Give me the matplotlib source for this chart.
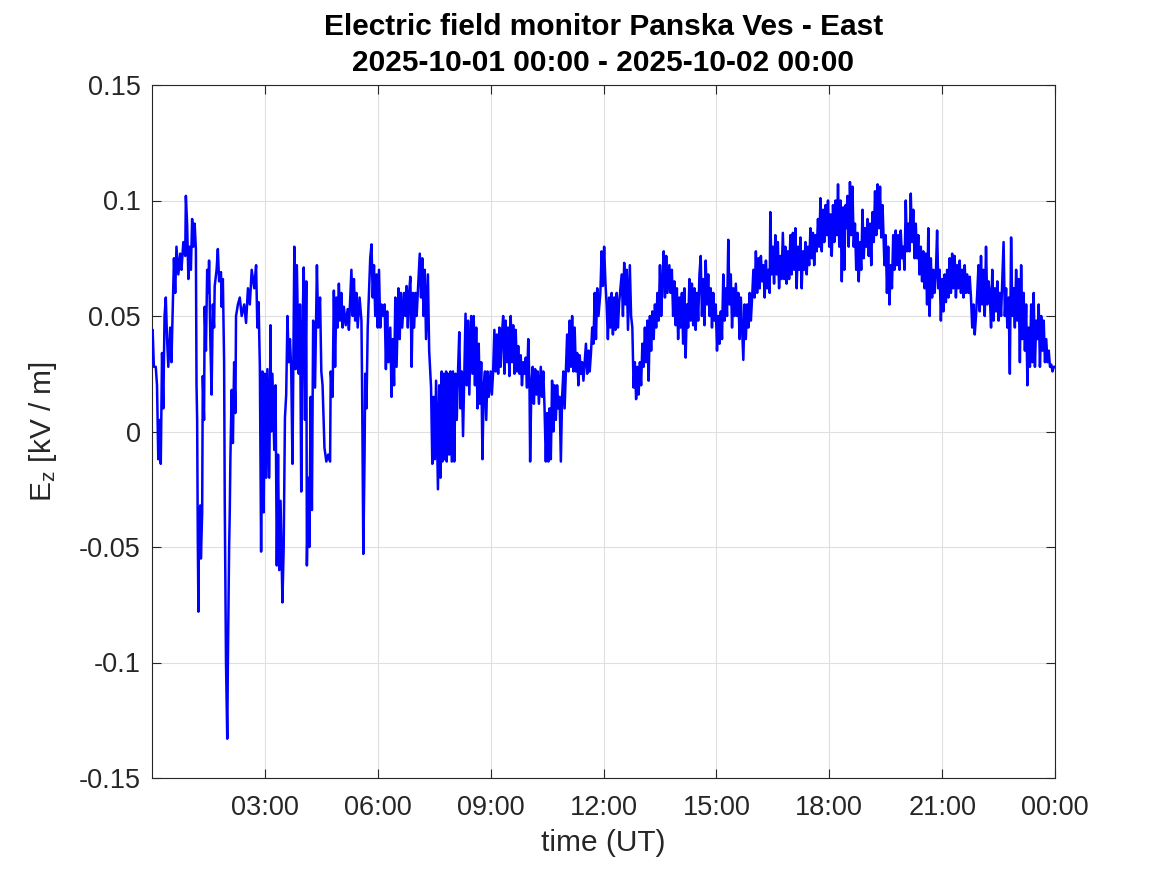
import matplotlib
matplotlib.use("Agg")
import matplotlib.pyplot as plt

# (minute of day, Ez in kV/m), in 3-hour blocks
block_00_03 = [(0, 0.030), (1, 0.044), (3, 0.028), (6, 0.028), (8, 0.020), (10, -0.012), (12, 0.005), (14, -0.014),
               (16, 0.034), (18, 0.010), (20, 0.050), (22, 0.058), (24, 0.040), (26, 0.028), (29, 0.045), (31, 0.030),
               (33, 0.052), (35, 0.075), (37, 0.060), (39, 0.080), (42, 0.068), (45, 0.077), (47, 0.070), (50, 0.082),
               (53, 0.076), (54, 0.102), (56, 0.090), (58, 0.066), (60, 0.080), (62, 0.070), (64, 0.092), (66, 0.080),
               (68, 0.090), (70, 0.079), (71, 0.020), (72, 0.005), (73, -0.045), (74, -0.078), (75, -0.040),
               (77, -0.032), (78, -0.055), (80, -0.035), (81, 0.024), (83, 0.005), (84, 0.054), (86, 0.035),
               (88, 0.070), (90, 0.060), (91, 0.074), (93, 0.040), (95, 0.016), (97, 0.055), (99, 0.045), (100, 0.063),
               (103, 0.070), (105, 0.079), (107, 0.065), (110, 0.069), (111, 0.054), (113, 0.066), (115, 0.030),
               (116, -0.030), (118, -0.100), (120, -0.133), (121, -0.100), (123, -0.050), (124, -0.035), (125, -0.012),
               (127, 0.018), (129, -0.005), (131, 0.030), (133, 0.008), (134, 0.050), (137, 0.055), (140, 0.058),
               (143, 0.050), (147, 0.055), (150, 0.047), (153, 0.062), (156, 0.055), (159, 0.070), (163, 0.062),
               (166, 0.072), (168, 0.045), (170, 0.056), (172, 0.028), (174, -0.052), (176, 0.026), (178, -0.035)]
block_03_06 = [(180, 0.025), (182, -0.020), (184, 0.027), (187, -0.020), (189, 0.046), (190, 0.000), (192, 0.025),
               (195, -0.008), (197, 0.020), (199, -0.058), (201, -0.010), (203, -0.060), (205, -0.030), (208, -0.074),
               (210, -0.050), (212, 0.006), (214, 0.016), (216, 0.050), (218, 0.030), (220, 0.040), (222, 0.027),
               (224, -0.014), (227, 0.080), (229, 0.027), (231, 0.072), (234, 0.025), (236, 0.055), (238, -0.026),
               (240, 0.045), (242, 0.071), (244, 0.005), (246, 0.065), (247, -0.058), (249, -0.020), (251, -0.050),
               (253, 0.015), (255, -0.034), (257, 0.048), (260, 0.019), (263, 0.072), (265, 0.045), (268, 0.058),
               (270, 0.026), (272, 0.020), (275, -0.007), (278, -0.013), (281, -0.010), (284, -0.013), (285, 0.026),
               (288, 0.015), (290, 0.061), (292, 0.028), (294, 0.058), (296, 0.045), (298, 0.064), (300, 0.048),
               (302, 0.060), (304, 0.045), (306, 0.054), (309, 0.046), (312, 0.053), (314, 0.044), (318, 0.070),
               (320, 0.050), (322, 0.066), (324, 0.048), (326, 0.060), (328, 0.045), (331, 0.058), (334, 0.048),
               (335, 0.020), (337, -0.053), (339, -0.010), (340, 0.025), (342, 0.010), (344, 0.045), (346, 0.060),
               (348, 0.075), (350, 0.081), (352, 0.058), (354, 0.072), (356, 0.050), (358, 0.068)]
block_06_09 = [(360, 0.045), (362, 0.070), (364, 0.045), (366, 0.055), (368, 0.050), (371, 0.055), (373, 0.027),
               (375, 0.052), (377, 0.030), (380, 0.045), (382, 0.015), (384, 0.040), (386, 0.020), (388, 0.058),
               (390, 0.028), (393, 0.062), (395, 0.040), (397, 0.060), (399, 0.045), (402, 0.060), (404, 0.050),
               (406, 0.063), (408, 0.045), (410, 0.060), (412, 0.067), (414, 0.028), (416, 0.060), (418, 0.045),
               (420, 0.060), (422, 0.050), (427, 0.077), (429, 0.058), (431, 0.075), (433, 0.050), (435, 0.070),
               (437, 0.040), (440, 0.068), (442, 0.035), (445, 0.019), (447, -0.014), (449, 0.015), (451, -0.012),
               (453, 0.022), (456, -0.025), (458, 0.020), (460, -0.020), (462, 0.026), (463, -0.013), (465, 0.025),
               (467, -0.012), (469, 0.026), (470, -0.013), (472, 0.025), (474, -0.010), (476, 0.026), (478, -0.013),
               (480, 0.026), (482, -0.013), (484, 0.025), (486, 0.005), (488, 0.026), (490, 0.043), (492, 0.010),
               (494, 0.026), (496, -0.002), (500, 0.051), (502, 0.020), (504, 0.048), (506, 0.016), (509, 0.050),
               (511, 0.025), (513, 0.050), (515, 0.020), (517, 0.045), (519, 0.010), (521, 0.038), (523, 0.012),
               (525, 0.030), (527, -0.012), (529, 0.020), (531, 0.026), (533, 0.005), (535, 0.026), (537, 0.015)]
block_09_12 = [(540, 0.026), (542, 0.016), (544, 0.026), (546, 0.044), (548, 0.026), (550, 0.042), (552, 0.025),
               (554, 0.045), (556, 0.028), (558, 0.042), (560, 0.050), (562, 0.025), (564, 0.048), (566, 0.030),
               (568, 0.045), (570, 0.024), (572, 0.050), (574, 0.030), (576, 0.046), (578, 0.025), (580, 0.044),
               (582, 0.026), (584, 0.037), (586, 0.025), (588, 0.033), (590, 0.020), (592, 0.030), (594, 0.025),
               (596, 0.032), (598, 0.019), (600, 0.040), (602, 0.020), (603, -0.013), (605, 0.020), (607, 0.028),
               (609, 0.012), (611, 0.027), (613, 0.016), (615, 0.026), (617, 0.012), (620, 0.028), (622, 0.015),
               (624, 0.026), (626, 0.010), (628, -0.013), (630, 0.008), (632, -0.013), (634, 0.010), (636, -0.012),
               (638, 0.022), (640, 0.000), (642, 0.020), (644, 0.005), (646, 0.020), (648, 0.010), (650, 0.015),
               (652, -0.013), (654, 0.015), (656, 0.026), (658, 0.010), (660, 0.026), (662, 0.042), (664, 0.026),
               (666, 0.048), (668, 0.028), (670, 0.050), (672, 0.026), (674, 0.045), (676, 0.026), (678, 0.034),
               (680, 0.020), (682, 0.033), (684, 0.025), (686, 0.030), (688, 0.022), (690, 0.030), (692, 0.038),
               (694, 0.025), (696, 0.035), (698, 0.026), (700, 0.034), (702, 0.045), (704, 0.038), (706, 0.060),
               (708, 0.040), (710, 0.062), (712, 0.050), (715, 0.060)]
block_12_15 = [(717, 0.078), (719, 0.063), (721, 0.080), (723, 0.065), (725, 0.055), (727, 0.040), (729, 0.058),
               (731, 0.045), (733, 0.060), (735, 0.042), (737, 0.058), (739, 0.044), (741, 0.060), (743, 0.045),
               (745, 0.056), (749, 0.068), (751, 0.050), (753, 0.073), (755, 0.055), (757, 0.070), (759, 0.044),
               (762, 0.072), (764, 0.050), (766, 0.045), (768, 0.019), (770, 0.030), (772, 0.014), (774, 0.028),
               (776, 0.016), (778, 0.030), (780, 0.020), (782, 0.038), (784, 0.028), (786, 0.045), (788, 0.030),
               (790, 0.048), (792, 0.022), (794, 0.050), (796, 0.035), (798, 0.052), (800, 0.040), (802, 0.055),
               (804, 0.045), (806, 0.060), (808, 0.048), (810, 0.072), (812, 0.050), (814, 0.066), (816, 0.078),
               (818, 0.058), (820, 0.076), (822, 0.060), (825, 0.072), (827, 0.060), (829, 0.070), (831, 0.050),
               (833, 0.065), (835, 0.046), (837, 0.062), (839, 0.040), (841, 0.058), (843, 0.045), (845, 0.060),
               (847, 0.038), (849, 0.062), (851, 0.032), (853, 0.055), (855, 0.045), (857, 0.066), (859, 0.048),
               (861, 0.064), (863, 0.046), (865, 0.062), (867, 0.044), (869, 0.060), (871, 0.048), (873, 0.068),
               (875, 0.076), (877, 0.050), (879, 0.066), (881, 0.046), (883, 0.074), (885, 0.055), (887, 0.068),
               (889, 0.050), (891, 0.062), (893, 0.045), (895, 0.060), (897, 0.048)]
block_15_18 = [(899, 0.055), (901, 0.035), (903, 0.050), (905, 0.038), (907, 0.052), (909, 0.040), (911, 0.068),
               (913, 0.048), (915, 0.062), (917, 0.050), (919, 0.083), (921, 0.055), (923, 0.068), (925, 0.045),
               (927, 0.062), (929, 0.050), (931, 0.064), (933, 0.050), (935, 0.060), (937, 0.040), (939, 0.058),
               (941, 0.045), (943, 0.031), (945, 0.055), (947, 0.040), (949, 0.055), (951, 0.045), (953, 0.060),
               (955, 0.048), (957, 0.058), (959, 0.070), (961, 0.058), (963, 0.078), (965, 0.060), (967, 0.075),
               (969, 0.062), (971, 0.076), (973, 0.065), (975, 0.072), (977, 0.058), (979, 0.074), (981, 0.062),
               (983, 0.070), (985, 0.060), (986, 0.095), (988, 0.068), (990, 0.080), (992, 0.064), (994, 0.085),
               (996, 0.068), (998, 0.082), (1000, 0.062), (1002, 0.076), (1004, 0.066), (1006, 0.086), (1008, 0.066),
               (1010, 0.080), (1012, 0.064), (1014, 0.078), (1016, 0.066), (1018, 0.085), (1020, 0.068),
               (1022, 0.086), (1024, 0.070), (1026, 0.088), (1028, 0.062), (1030, 0.080), (1032, 0.070),
               (1034, 0.084), (1036, 0.062), (1038, 0.078), (1040, 0.070), (1042, 0.082), (1044, 0.068),
               (1046, 0.080), (1048, 0.072), (1050, 0.088), (1052, 0.075), (1054, 0.086), (1056, 0.072),
               (1058, 0.085), (1060, 0.078), (1062, 0.092), (1064, 0.080), (1066, 0.101), (1068, 0.078),
               (1070, 0.096), (1072, 0.082), (1074, 0.098), (1076, 0.085), (1078, 0.100)]
block_18_21 = [(1080, 0.080), (1082, 0.094), (1084, 0.076), (1086, 0.098), (1088, 0.082), (1090, 0.100),
               (1092, 0.085), (1094, 0.107), (1096, 0.080), (1098, 0.100), (1100, 0.065), (1102, 0.097),
               (1104, 0.070), (1106, 0.098), (1107, 0.088), (1109, 0.102), (1111, 0.080), (1113, 0.108),
               (1115, 0.085), (1117, 0.106), (1119, 0.080), (1121, 0.090), (1123, 0.070), (1125, 0.086),
               (1127, 0.065), (1129, 0.082), (1131, 0.070), (1133, 0.096), (1135, 0.075), (1137, 0.088),
               (1139, 0.080), (1141, 0.092), (1143, 0.076), (1145, 0.090), (1147, 0.072), (1149, 0.095),
               (1151, 0.082), (1153, 0.104), (1155, 0.085), (1157, 0.107), (1159, 0.088), (1161, 0.106),
               (1163, 0.084), (1165, 0.098), (1168, 0.072), (1170, 0.085), (1172, 0.060), (1174, 0.080),
               (1176, 0.055), (1178, 0.072), (1180, 0.062), (1182, 0.085), (1184, 0.070), (1186, 0.087),
               (1188, 0.072), (1190, 0.085), (1192, 0.070), (1194, 0.087), (1196, 0.075), (1198, 0.080),
               (1200, 0.070), (1202, 0.100), (1204, 0.078), (1206, 0.090), (1208, 0.078), (1210, 0.103),
               (1212, 0.082), (1214, 0.096), (1216, 0.075), (1218, 0.090), (1220, 0.075), (1222, 0.085),
               (1224, 0.068), (1226, 0.080), (1228, 0.065), (1230, 0.078), (1232, 0.062), (1234, 0.077),
               (1236, 0.055), (1238, 0.088), (1240, 0.050), (1242, 0.075), (1244, 0.058), (1246, 0.070),
               (1248, 0.060), (1250, 0.068), (1252, 0.087), (1254, 0.062), (1256, 0.070), (1258, 0.048)]
block_21_24 = [(1260, 0.066), (1262, 0.052), (1264, 0.068), (1266, 0.056), (1268, 0.070), (1270, 0.058),
               (1272, 0.075), (1274, 0.060), (1276, 0.077), (1278, 0.062), (1280, 0.076), (1282, 0.058),
               (1284, 0.072), (1286, 0.062), (1288, 0.074), (1290, 0.060), (1292, 0.070), (1294, 0.058),
               (1296, 0.072), (1298, 0.060), (1300, 0.068), (1302, 0.060), (1304, 0.067), (1306, 0.058),
               (1308, 0.045), (1310, 0.055), (1312, 0.042), (1314, 0.050), (1316, 0.060), (1318, 0.072),
               (1320, 0.052), (1322, 0.076), (1324, 0.055), (1326, 0.070), (1328, 0.050), (1330, 0.080),
               (1332, 0.055), (1334, 0.065), (1336, 0.060), (1338, 0.045), (1340, 0.070), (1342, 0.048),
               (1344, 0.062), (1346, 0.052), (1348, 0.065), (1350, 0.048), (1352, 0.060), (1354, 0.050),
               (1358, 0.082), (1360, 0.050), (1362, 0.062), (1364, 0.045), (1366, 0.058), (1368, 0.025),
               (1370, 0.084), (1372, 0.050), (1374, 0.062), (1376, 0.045), (1378, 0.070), (1380, 0.048),
               (1382, 0.066), (1384, 0.030), (1386, 0.072), (1388, 0.040), (1390, 0.060), (1392, 0.035),
               (1394, 0.055), (1396, 0.020), (1398, 0.045), (1400, 0.028), (1402, 0.055), (1404, 0.030),
               (1406, 0.060), (1408, 0.028), (1410, 0.048), (1412, 0.040), (1414, 0.055), (1416, 0.028),
               (1418, 0.050), (1420, 0.035), (1422, 0.048), (1424, 0.030), (1426, 0.040), (1428, 0.030),
               (1430, 0.035), (1432, 0.028), (1434, 0.029), (1436, 0.026), (1438, 0.028), (1440, 0.028)]

blocks = [block_00_03, block_03_06, block_06_09, block_09_12,
          block_12_15, block_15_18, block_18_21, block_21_24]

x_ticks_min = [180, 360, 540, 720, 900, 1080, 1260, 1440]
x_tick_labels = ["03:00", "06:00", "09:00", "12:00", "15:00", "18:00", "21:00", "00:00"]
y_ticks = [-0.15, -0.1, -0.05, 0, 0.05, 0.1, 0.15]
y_tick_labels = ["-0.15", "-0.1", "-0.05", "0", "0.05", "0.1", "0.15"]

title_lines = ["Electric field monitor Panska Ves - East",
               "2025-10-01 00:00 - 2025-10-02 00:00"]

minutes = [p[0] for b in blocks for p in b]
ez = [p[1] for b in blocks for p in b]

plt.rcParams['font.family'] = ['Liberation Sans', 'DejaVu Sans']
plt.rcParams['mathtext.fontset'] = 'custom'
plt.rcParams['mathtext.rm'] = 'Liberation Sans'
plt.rcParams['mathtext.it'] = 'Liberation Sans'
plt.rcParams['mathtext.default'] = 'regular'

fig = plt.figure(figsize=(11.67, 8.75), dpi=100)
ax = fig.add_axes([152/1167, 1 - 778/875, (1055-152)/1167, (778-85)/875])

axis_col = '#262626'
ax.plot(minutes, ez, color='#0000ff', linewidth=1.8, zorder=3)

ax.set_xlim(0, 1440)
ax.set_ylim(-0.15, 0.15)
ax.set_xticks(x_ticks_min)
ax.set_xticklabels(x_tick_labels)
ax.set_yticks(y_ticks)
ax.set_yticklabels(y_tick_labels)

ax.grid(True, color='#dfdfdf', linewidth=0.8, zorder=0)
ax.set_axisbelow(True)
ax.tick_params(direction='in', length=6.5, width=0.8, colors=axis_col,
               labelsize=19.5, top=True, right=True, pad=8)
ax.tick_params(axis='x', pad=12)
for s in ax.spines.values():
    s.set_color(axis_col)
    s.set_linewidth(0.8)

ax.set_xlabel("time (UT)", fontsize=21.5, color=axis_col, labelpad=6)
ax.set_ylabel("E$_{z}$ [kV / m]", fontsize=21.5, color=axis_col, labelpad=14)
ax.set_title("\n".join(title_lines), fontsize=21.5, fontweight='bold',
             color='black', pad=10, linespacing=1.38)

fig.savefig("out.png", dpi=100)
